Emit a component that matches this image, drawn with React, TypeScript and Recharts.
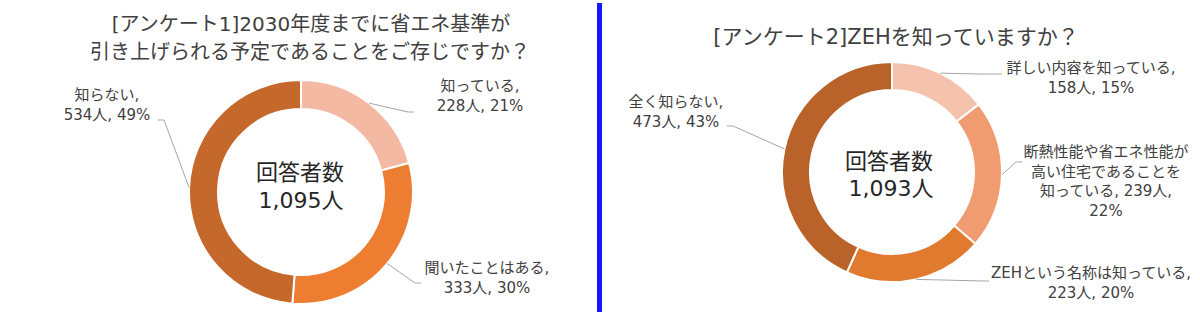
import React from 'react';
import { PieChart, Pie, Cell } from 'recharts';

// アンケート1
const q1Names = ['知っている', '聞いたことはある', '知らない'];
const q1Values = [228, 333, 534];
const q1Pcts = [21, 30, 49];
const q1Colors = ['#F4B9A2', '#ED7D31', '#C4682B'];

// アンケート2
const q2Names = [
  '詳しい内容を知っている',
  '断熱性能や省エネ性能が高い住宅であることを知っている',
  'ZEHという名称は知っている',
  '全く知らない',
];
const q2Values = [158, 239, 223, 473];
const q2Pcts = [15, 22, 20, 43];
const q2Colors = ['#F5C2AE', '#F09C70', '#E07A2F', '#B9622A'];

const RAD = Math.PI / 180;
const TEXT = '#404040';
const LABEL_FONT = '"DejaVu Sans", "Noto Sans CJK JP", sans-serif';

type LabelPos = {
  tx: number;
  ty: number;
  elbow: [number, number];
  end: [number, number];
  breaks?: number[];
};

const q1Layout: LabelPos[] = [
  { tx: 480, ty: 86, elbow: [408, 112], end: [414, 112] },
  { tx: 487, ty: 268, elbow: [415, 283], end: [421, 283] },
  { tx: 107, ty: 95, elbow: [164, 120], end: [158, 120] },
];

const q2Layout: LabelPos[] = [
  { tx: 1091, ty: 68, elbow: [980, 74], end: [1002, 74] },
  { tx: 1106, ty: 152, elbow: [1016, 162], end: [1022, 162], breaks: [11, 21] },
  { tx: 1091, ty: 273, elbow: [983, 281], end: [989, 281] },
  { tx: 676, ty: 102, elbow: [733, 126], end: [727, 126] },
];

const fmt = (n: number) => String(n).replace(/\B(?=(\d{3})+(?!\d))/g, ',');

function labelLines(name: string, value: number, pct: number, breaks?: number[]) {
  if (!breaks) return [`${name},`, `${value}人, ${pct}%`];
  const parts: string[] = [];
  let prev = 0;
  breaks.forEach((b) => {
    parts.push(name.slice(prev, b));
    prev = b;
  });
  parts.push(`${name.slice(prev)}, ${value}人,`);
  parts.push(`${pct}%`);
  return parts;
}

function makeLabel(names: string[], values: number[], pcts: number[], layout: LabelPos[]) {
  return (props: any) => {
    const { cx, cy, midAngle, outerRadius, index } = props;
    const lay = layout[index];
    const sx = cx + outerRadius * Math.cos(-midAngle * RAD);
    const sy = cy + outerRadius * Math.sin(-midAngle * RAD);
    const lines = labelLines(names[index], values[index], pcts[index], lay.breaks);
    return (
      <g>
        <polyline
          points={`${sx},${sy} ${lay.elbow[0]},${lay.elbow[1]} ${lay.end[0]},${lay.end[1]}`}
          fill="none"
          stroke="#A6A6A6"
          strokeWidth={1}
        />
        {lines.map((t, i) => (
          <text
            key={i}
            x={lay.tx}
            y={lay.ty + i * 19.5}
            textAnchor="middle"
            dominantBaseline="central"
            fill={TEXT}
            fontSize={15}
            fontFamily={LABEL_FONT}
          >
            {t}
          </text>
        ))}
      </g>
    );
  };
}

const q1Data = q1Names.map((name, i) => ({ name, value: q1Values[i] }));
const q2Data = q2Names.map((name, i) => ({ name, value: q2Values[i] }));
const q1Total = q1Values.reduce((a, b) => a + b, 0);
const q2Total = q2Values.reduce((a, b) => a + b, 0);

export default function App() {
  return (
    <div style={{ position: 'absolute', left: 0, top: 0, width: 1200, height: 318, background: '#fff' }}>
      <PieChart width={1200} height={318} margin={{ top: 0, right: 0, bottom: 0, left: 0 }}>
        <text x={311} y={24} textAnchor="middle" dominantBaseline="central" fontSize={20} fill={TEXT} fontFamily={LABEL_FONT}>
          [アンケート1]2030年度までに省エネ基準が
        </text>
        <text x={310} y={52} textAnchor="middle" dominantBaseline="central" fontSize={20} fill={TEXT} fontFamily={LABEL_FONT}>
          引き上げられる予定であることをご存じですか？
        </text>
        <text x={896} y={37} textAnchor="middle" dominantBaseline="central" fontSize={21} fill={TEXT} fontFamily={LABEL_FONT}>
          [アンケート2]ZEHを知っていますか？
        </text>

        <rect x={597} y={3} width={5} height={309} fill="#1515FF" />

        <Pie
          data={q1Data}
          dataKey="value"
          nameKey="name"
          cx={301}
          cy={192}
          innerRadius={83}
          outerRadius={112}
          startAngle={90}
          endAngle={-270}
          stroke="#fff"
          strokeWidth={2}
          labelLine={false}
          label={makeLabel(q1Names, q1Values, q1Pcts, q1Layout)}
          isAnimationActive={false}
        >
          {q1Data.map((d, i) => (
            <Cell key={d.name} fill={q1Colors[i]} />
          ))}
        </Pie>
        <Pie
          data={q2Data}
          dataKey="value"
          nameKey="name"
          cx={892}
          cy={172}
          innerRadius={82}
          outerRadius={110}
          startAngle={90}
          endAngle={-270}
          stroke="#fff"
          strokeWidth={2}
          labelLine={false}
          label={makeLabel(q2Names, q2Values, q2Pcts, q2Layout)}
          isAnimationActive={false}
        >
          {q2Data.map((d, i) => (
            <Cell key={d.name} fill={q2Colors[i]} />
          ))}
        </Pie>

        <text x={300} y={172} textAnchor="middle" dominantBaseline="central" fontSize={22} fill="#262626" fontFamily={LABEL_FONT}>
          回答者数
        </text>
        <text x={301} y={200} textAnchor="middle" dominantBaseline="central" fontSize={22} fill="#262626" fontFamily={LABEL_FONT}>
          {fmt(q1Total)}人
        </text>
        <text x={889} y={161} textAnchor="middle" dominantBaseline="central" fontSize={22} fill="#262626" fontFamily={LABEL_FONT}>
          回答者数
        </text>
        <text x={891} y={188} textAnchor="middle" dominantBaseline="central" fontSize={22} fill="#262626" fontFamily={LABEL_FONT}>
          {fmt(q2Total)}人
        </text>
      </PieChart>
    </div>
  );
}
